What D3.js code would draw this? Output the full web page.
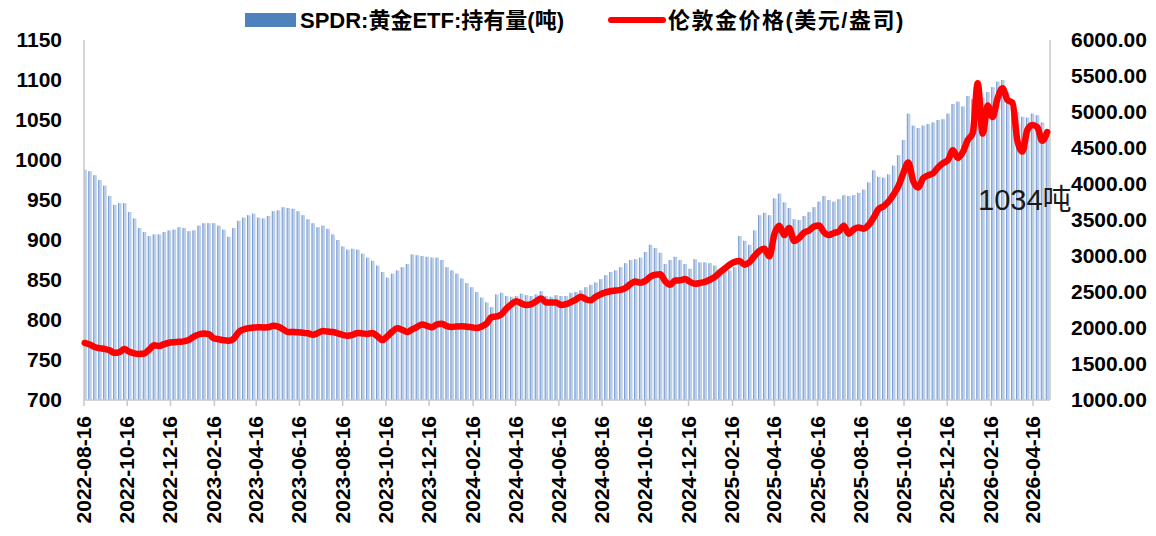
<!DOCTYPE html>
<html>
<head>
<meta charset="utf-8">
<script src="https://cdn.jsdelivr.net/npm/d3@7"></script>
<style>
  body { margin: 0; background: #fff; }
  text { font-family: "Liberation Sans", "Noto Sans CJK SC", sans-serif; }
</style>
</head>
<body>
<script>
// weekly readings, first week starts Monday 2022-08-15
const firstWeek = '2022-08-15';

// SPDR gold ETF holdings (tonnes), one value per week
const holdings = [
  988, 986, 981, 975, 968, 955, 944, 946, 946, 935,
  927, 915, 910, 905, 907, 907, 910, 912, 913, 916,
  915, 911, 912, 918, 921, 921, 921, 918, 913, 904,
  915, 924, 928, 931, 933, 928, 927, 930, 936, 937,
  941, 940, 939, 936, 931, 926, 921, 916, 918, 914,
  907, 900, 892, 888, 889, 888, 883, 878, 874, 868,
  860, 853, 858, 862, 866, 870, 882, 881, 880, 879,
  878, 878, 875, 866, 862, 858, 852, 846, 841, 835,
  828, 822, 816, 832, 834, 830, 829, 830, 833, 831,
  830, 832, 836, 830, 829, 831, 830, 830, 834, 835,
  837, 841, 844, 847, 851, 856, 860, 862, 866, 871,
  875, 876, 878, 885, 894, 890, 884, 870, 875, 879,
  875, 870, 864, 876, 872, 872, 871, 868, 862, 860,
  862, 866, 905, 899, 894, 912, 931, 934, 931, 952,
  958, 947, 940, 926, 925, 930, 935, 941, 948, 955,
  950, 948, 951, 956, 955, 956, 959, 963, 972, 987,
  979, 978, 982, 993, 1006, 1025, 1058, 1043, 1040, 1043,
  1045, 1047, 1050, 1051, 1058, 1070, 1073, 1067, 1080, 1076,
  1080, 1078, 1085, 1091, 1098, 1100, 1085, 1072, 1060, 1054,
  1053, 1058, 1056, 1047, 1034
];

// London gold price (USD/oz), same weeks
const price = [
  1792, 1770, 1736, 1720, 1708, 1690, 1655, 1665, 1708, 1670,
  1648, 1640, 1645, 1700, 1760, 1750, 1775, 1795, 1803, 1808,
  1815, 1835, 1880, 1910, 1925, 1915, 1858, 1843, 1830, 1824,
  1850, 1940, 1980, 1998, 2006, 2012, 2008, 2010, 2030, 2020,
  1980, 1944, 1944, 1942, 1934, 1928, 1905, 1930, 1958, 1950,
  1944, 1925, 1905, 1892, 1905, 1930, 1925, 1918, 1930, 1885,
  1833, 1885, 1950, 1995, 1975, 1944, 1980, 2015, 2050, 2030,
  2010, 2050, 2060, 2025, 2015, 2022, 2025, 2018, 2010, 2000,
  2022, 2060, 2150, 2160, 2190, 2270, 2330, 2372, 2342, 2320,
  2330, 2370, 2410, 2355, 2355, 2355, 2320, 2330, 2360, 2395,
  2435, 2400, 2385, 2435, 2470, 2495, 2510, 2520, 2530, 2555,
  2610, 2645, 2630, 2655, 2712, 2740, 2745, 2650, 2600, 2660,
  2662, 2680, 2640, 2615, 2625, 2640, 2670, 2710, 2770, 2825,
  2880, 2920, 2930, 2880, 2915, 3000, 3070, 3100, 2995, 3300,
  3420, 3290, 3390, 3210, 3250, 3325, 3355, 3410, 3425, 3330,
  3290, 3320, 3340, 3420, 3310, 3370, 3395, 3380, 3430, 3530,
  3650, 3690, 3755, 3850, 3970, 4150, 4300, 4040, 3950, 4080,
  4120, 4150, 4230, 4290, 4330, 4470, 4361, 4444, 4611, 4708,
  5400, 4700, 5090, 4931, 5190, 5330, 5167, 5130, 4600, 4450,
  4750, 4819, 4792, 4600, 4720
];

const tickDates = [
  '2022-08-16', '2022-10-16', '2022-12-16', '2023-02-16', '2023-04-16',
  '2023-06-16', '2023-08-16', '2023-10-16', '2023-12-16', '2024-02-16',
  '2024-04-16', '2024-06-16', '2024-08-16', '2024-10-16', '2024-12-16',
  '2025-02-16', '2025-04-16', '2025-06-16', '2025-08-16', '2025-10-16',
  '2025-12-16', '2026-02-16', '2026-04-16'
];
const leftTicks = [700, 750, 800, 850, 900, 950, 1000, 1050, 1100, 1150];
const rightTicks = [1000, 1500, 2000, 2500, 3000, 3500, 4000, 4500, 5000, 5500, 6000];

const barName = 'SPDR:黄金ETF:持有量(吨)';
const lineName = '伦敦金价格(美元/盎司)';

const W = 1156, H = 536;
const plot = { left: 84, right: 1050, top: 40, bottom: 400 };

const parse = d3.timeParse('%Y-%m-%d');
const start = parse(firstWeek);
const weeks = holdings.map((v, i) => ({
  date: d3.timeDay.offset(start, i * 7),
  hold: v,
  price: price[i]
}));

const x = d3.scaleTime()
  .domain([parse(tickDates[0]), parse(tickDates[tickDates.length - 1])])
  .range([84, 1033]);
const yL = d3.scaleLinear().domain([700, 1150]).range([plot.bottom, plot.top]);
const yR = d3.scaleLinear().domain([1000, 6000]).range([plot.bottom, plot.top]);

const svg = d3.select('body')
  .append('svg')
  .attr('width', W)
  .attr('height', H);

svg.append('defs').append('clipPath')
  .attr('id', 'plotclip')
  .append('rect')
  .attr('x', plot.left)
  .attr('y', 0)
  .attr('width', plot.right - plot.left)
  .attr('height', plot.bottom);

/* bars: each week spans its five trading days, weekend left open */
const bars = svg.append('g')
  .attr('clip-path', 'url(#plotclip)')
  .selectAll('g')
  .data(weeks)
  .enter()
  .append('g');

bars.append('rect')
  .attr('x', d => x(d.date))
  .attr('width', d => x(d3.timeDay.offset(d.date, 5)) - x(d.date))
  .attr('y', d => yL(d.hold))
  .attr('height', d => yL(700) - yL(d.hold))
  .attr('fill', '#bccfe9');

// darker edge gives the thin-bar striping of the daily original
bars.append('line')
  .attr('x1', d => x(d.date) + 0.5)
  .attr('x2', d => x(d.date) + 0.5)
  .attr('y1', d => yL(d.hold))
  .attr('y2', yL(700))
  .attr('stroke', '#7d9ed0')
  .attr('stroke-width', 1);

/* axes lines */
const axisColor = '#c8c8c8';
svg.append('line')
  .attr('x1', plot.left).attr('x2', plot.left)
  .attr('y1', plot.top).attr('y2', plot.bottom)
  .attr('stroke', axisColor).attr('stroke-width', 1.5);
svg.append('line')
  .attr('x1', plot.right).attr('x2', plot.right)
  .attr('y1', plot.top).attr('y2', plot.bottom)
  .attr('stroke', axisColor).attr('stroke-width', 1.5);
svg.append('line')
  .attr('x1', plot.left).attr('x2', plot.right)
  .attr('y1', plot.bottom).attr('y2', plot.bottom)
  .attr('stroke', axisColor).attr('stroke-width', 1.5);

/* price line */
const line = d3.line()
  .x(d => x(d3.timeDay.offset(d.date, 2)))
  .y(d => yR(d.price))
  .curve(d3.curveMonotoneX);

svg.append('path')
  .datum(weeks)
  .attr('d', line)
  .attr('fill', 'none')
  .attr('stroke', '#ff0000')
  .attr('stroke-width', 6.5)
  .attr('stroke-linejoin', 'round')
  .attr('stroke-linecap', 'round');

/* x ticks + labels */
const xt = svg.append('g');
tickDates.forEach(s => {
  const px = x(parse(s));
  xt.append('line')
    .attr('x1', px).attr('x2', px)
    .attr('y1', plot.bottom).attr('y2', plot.bottom + 6)
    .attr('stroke', axisColor).attr('stroke-width', 1.5);
  xt.append('text')
    .attr('transform', `translate(${px + 7},${plot.bottom + 16}) rotate(-90)`)
    .attr('text-anchor', 'end')
    .attr('font-size', 21)
    .attr('font-weight', 'bold')
    .attr('fill', '#000')
    .text(s);
});

/* left labels */
svg.append('g')
  .selectAll('text')
  .data(leftTicks)
  .enter()
  .append('text')
  .attr('x', 62)
  .attr('y', d => yL(d) + 7)
  .attr('text-anchor', 'end')
  .attr('font-size', 21)
  .attr('font-weight', 'bold')
  .text(d => d);

/* right labels */
svg.append('g')
  .selectAll('text')
  .data(rightTicks)
  .enter()
  .append('text')
  .attr('x', 1071)
  .attr('y', d => yR(d) + 7)
  .attr('font-size', 21)
  .attr('font-weight', 'bold')
  .text(d => d3.format('.2f')(d));

/* annotation of latest holding */
svg.append('text')
  .attr('x', 978)
  .attr('y', 210)
  .attr('font-size', 29)
  .attr('fill', '#1a1a1a')
  .text(holdings[holdings.length - 1] + '吨');

/* legend */
const lg = svg.append('g');
lg.append('rect')
  .attr('x', 245).attr('y', 13)
  .attr('width', 51).attr('height', 14)
  .attr('fill', '#4f81bd');
lg.append('text')
  .attr('x', 300).attr('y', 28)
  .attr('font-size', 22)
  .attr('font-weight', 'bold')
  .text(barName);
lg.append('line')
  .attr('x1', 611).attr('x2', 663)
  .attr('y1', 20).attr('y2', 20)
  .attr('stroke', '#ff0000')
  .attr('stroke-width', 6)
  .attr('stroke-linecap', 'round');
lg.append('text')
  .attr('x', 668).attr('y', 28)
  .attr('font-size', 22)
  .attr('font-weight', 'bold')
  .attr('letter-spacing', 1.5)
  .text(lineName);
</script>
</body>
</html>
